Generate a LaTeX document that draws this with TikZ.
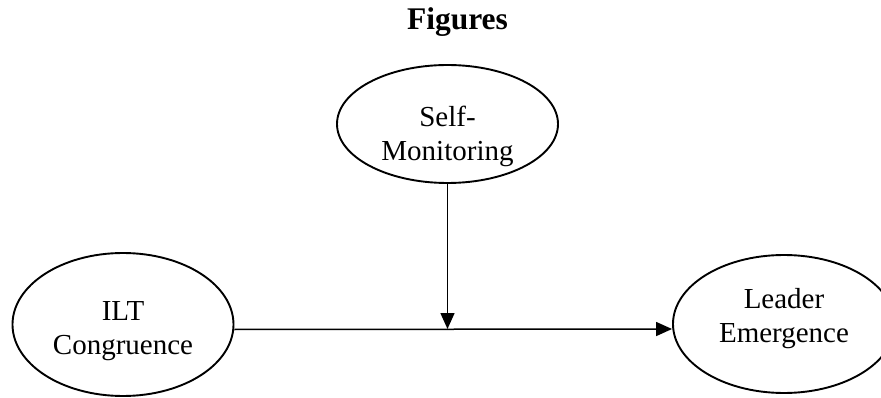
\documentclass[tikz,border=0pt]{standalone}
\usepackage{fontspec}
\setmainfont{Liberation Serif}
\usetikzlibrary{shapes.geometric,arrows.meta}
\tikzset{
  construct/.style={draw, ellipse, line width=1.9pt, inner sep=0pt},
  construct label/.style={align=center, inner sep=0pt,
    font=\fontsize{29}{34}\selectfont},
  path link/.style={line width=1.5pt, -{Triangle[length=16pt,width=14pt]}},
}
\begin{document}
\begin{tikzpicture}[x=1pt, y=-1pt]
  \useasboundingbox (0,0) rectangle (881,398);
  \clip (0,0) rectangle (881,398);
  \node[font=\bfseries\fontsize{31.5}{36}\selectfont] (title) at (457.5,22) {Figures};
  % constructs
  \node[construct, minimum width=221pt, minimum height=143pt] (ilt) at (123,324.5) {};
  \node[construct, minimum width=221pt, minimum height=118pt] (sm) at (447.5,124) {};
  \node[construct, minimum width=222pt, minimum height=138pt] (le) at (784,324) {};
  \node[construct label] (ilt-text) at (123,331) {ILT\\Congruence};
  \node[construct label] (sm-text) at (447.5,136) {Self-\\Monitoring};
  \node[construct label] (le-text) at (784,319) {Leader\\Emergence};
  % paths
  \coordinate (join) at (449,329);
  \draw[path link] ([yshift=-5pt]ilt.east) -- ([yshift=-5pt]le.west);
  \draw[path link] (sm.south) -- (sm.south |- join);
\end{tikzpicture}
\end{document}
